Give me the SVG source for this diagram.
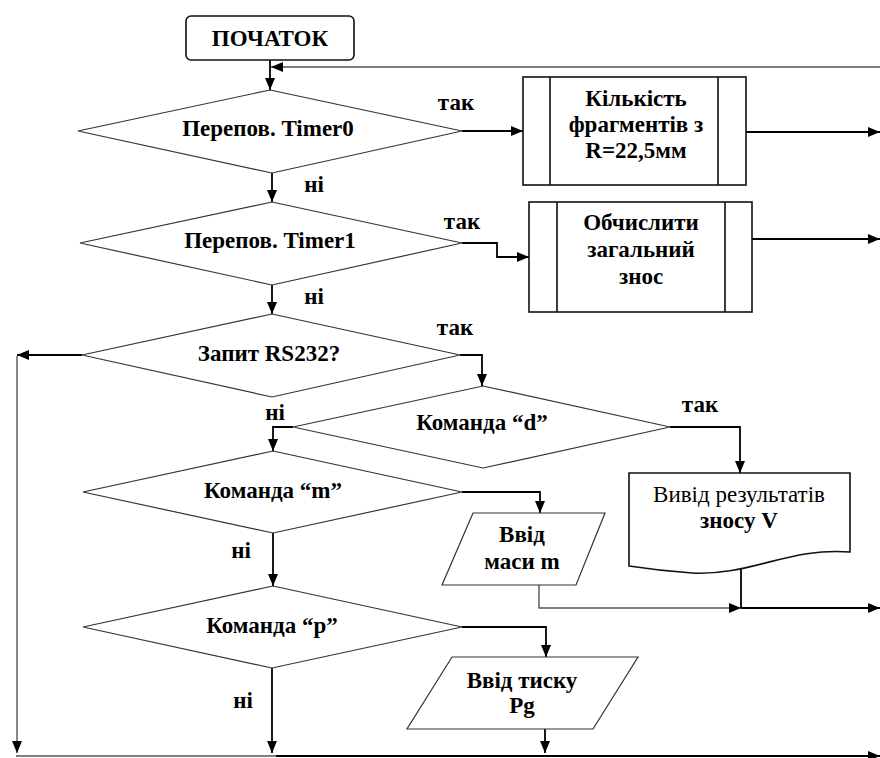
<svg xmlns="http://www.w3.org/2000/svg" width="880" height="758" viewBox="0 0 880 758">
  <style>
    .t { font-size: 23px; font-weight: bold; fill: #000; text-anchor: middle; }
    .r { font-weight: normal; }
    .dia { fill: #fff; stroke: #333; stroke-width: 1.2; }
    .box { fill: #fff; stroke: #111; stroke-width: 1.6; }
    .con { fill: none; stroke: #000; stroke-width: 1.8; }
    .thin { stroke: #555; stroke-width: 1.4; }
  </style>
  <defs>
    <marker id="arr" viewBox="0 0 12 10" refX="12" refY="5" markerWidth="12" markerHeight="10" markerUnits="userSpaceOnUse" orient="auto">
      <path d="M0,0 L12,5 L0,10 z" fill="#000"/>
    </marker>
  </defs>

  <!-- connectors -->
  <g id="connectors">
    <path class="con" d="M270,60 V90" marker-end="url(#arr)"/>
    <path class="con thin" d="M880,67 H271" marker-end="url(#arr)"/>
    <path class="con" d="M462,131 H523" marker-end="url(#arr)"/>
    <path class="con" d="M746,132 H880" marker-end="url(#arr)"/>
    <path class="con" d="M272,173 V202" marker-end="url(#arr)"/>
    <path class="con" d="M462,243 H497 V257 H529" marker-end="url(#arr)"/>
    <path class="con" d="M752,239 H880" marker-end="url(#arr)"/>
    <path class="con" d="M272,285 V314" marker-end="url(#arr)"/>
    <path class="con" d="M82,355 H17" marker-end="url(#arr)"/>
    <path class="con thin" d="M17,356 V753" marker-end="url(#arr)"/>
    <path class="con" d="M460,355 H482 V386" marker-end="url(#arr)"/>
    <path class="con" d="M670,427 H740 V473" marker-end="url(#arr)"/>
    <path class="con" d="M293,427 H273 V451" marker-end="url(#arr)"/>
    <path class="con" d="M462,492 H540 V513" marker-end="url(#arr)"/>
    <path class="con" d="M273,533 V586" marker-end="url(#arr)"/>
    <path class="con thin" d="M539,585 V608 H741" marker-end="url(#arr)"/>
    <path class="con" d="M741,608 H880" marker-end="url(#arr)"/>
    <path class="con" d="M741,569 V608"/>
    <path class="con" d="M462,627 H546 V657" marker-end="url(#arr)"/>
    <path class="con" d="M272,668 V753" marker-end="url(#arr)"/>
    <path class="con" d="M545,729 V753" marker-end="url(#arr)"/>
    <path class="con thin" d="M16,756 H276"/>
    <path class="con" d="M276,756 H880" marker-end="url(#arr)"/>
  </g>

  <g font-family="Liberation Serif, serif">
  <!-- edge labels -->
  <g id="labels">
    <text class="t" x="456" y="110">так</text>
    <text class="t" x="314" y="192">ні</text>
    <text class="t" x="462" y="229">так</text>
    <text class="t" x="314" y="304">ні</text>
    <text class="t" x="455" y="335">так</text>
    <text class="t" x="275" y="420">ні</text>
    <text class="t" x="700" y="412">так</text>
    <text class="t" x="241" y="558">ні</text>
    <text class="t" x="243" y="708">ні</text>
  </g>

  <g id="start">
    <rect x="186" y="16" width="168" height="44" rx="5" class="box" stroke-width="1.2" stroke="#444"/>
    <text class="t" x="270" y="46">ПОЧАТОК</text>
  </g>

  <g id="timer0">
    <polygon class="dia" points="270,90 462,131 272,173 78,131"/>
    <text class="t" x="268" y="136">Перепов. Timer0</text>
  </g>

  <g id="fragments">
    <rect x="523" y="77" width="223" height="108" class="box"/>
    <path d="M550,77 V185 M718,77 V185" stroke="#111" stroke-width="1.6"/>
    <text class="t" x="636" y="106">Кількість</text>
    <text class="t" x="636" y="132">фрагментів з</text>
    <text class="t" x="636" y="158">R=22,5мм</text>
  </g>

  <g id="timer1">
    <polygon class="dia" points="272,202 462,243 272,285 80,243"/>
    <text class="t" x="270" y="248">Перепов. Timer1</text>
  </g>

  <g id="drift">
    <rect x="529" y="202" width="223" height="110" class="box"/>
    <path d="M557,202 V312 M725,202 V312" stroke="#111" stroke-width="1.6"/>
    <text class="t" x="641" y="230">Обчислити</text>
    <text class="t" x="641" y="257">загальний</text>
    <text class="t" x="641" y="284">знос</text>
  </g>

  <g id="rs232">
    <polygon class="dia" points="272,314 460,355 272,397 82,355"/>
    <text class="t" x="269" y="361">Запит RS232?</text>
  </g>

  <g id="cmd-d">
    <polygon class="dia" points="483,386 670,427 483,468 293,427"/>
    <text class="t" x="482" y="430">Команда “d”</text>
  </g>

  <g id="output-v">
    <path class="box" stroke-width="1.2" stroke="#444" d="M629,473 H850 V552 C790,547 750,576 692,573 C662,571 642,568 629,566 Z"/>
    <text class="t r" x="739" y="502">Вивід результатів</text>
    <text class="t" x="739" y="528">зносу V</text>
  </g>

  <g id="cmd-m">
    <polygon class="dia" points="273,451 462,492 273,533 83,492"/>
    <text class="t" x="273" y="498">Команда “m”</text>
  </g>

  <g id="input-m">
    <polygon class="dia" points="473,513 605,513 576,585 442,585"/>
    <text class="t" x="522" y="542">Ввід</text>
    <text class="t" x="522" y="569">маси m</text>
  </g>

  <g id="cmd-p">
    <polygon class="dia" points="273,586 462,627 272,668 83,627"/>
    <text class="t" x="272" y="633">Команда “p”</text>
  </g>

  <g id="input-p">
    <polygon class="dia" points="452,657 638,657 593,729 407,729"/>
    <text class="t" x="522" y="688">Ввід тиску</text>
    <text class="t" x="522" y="713">Pg</text>
  </g>
  </g>
</svg>
